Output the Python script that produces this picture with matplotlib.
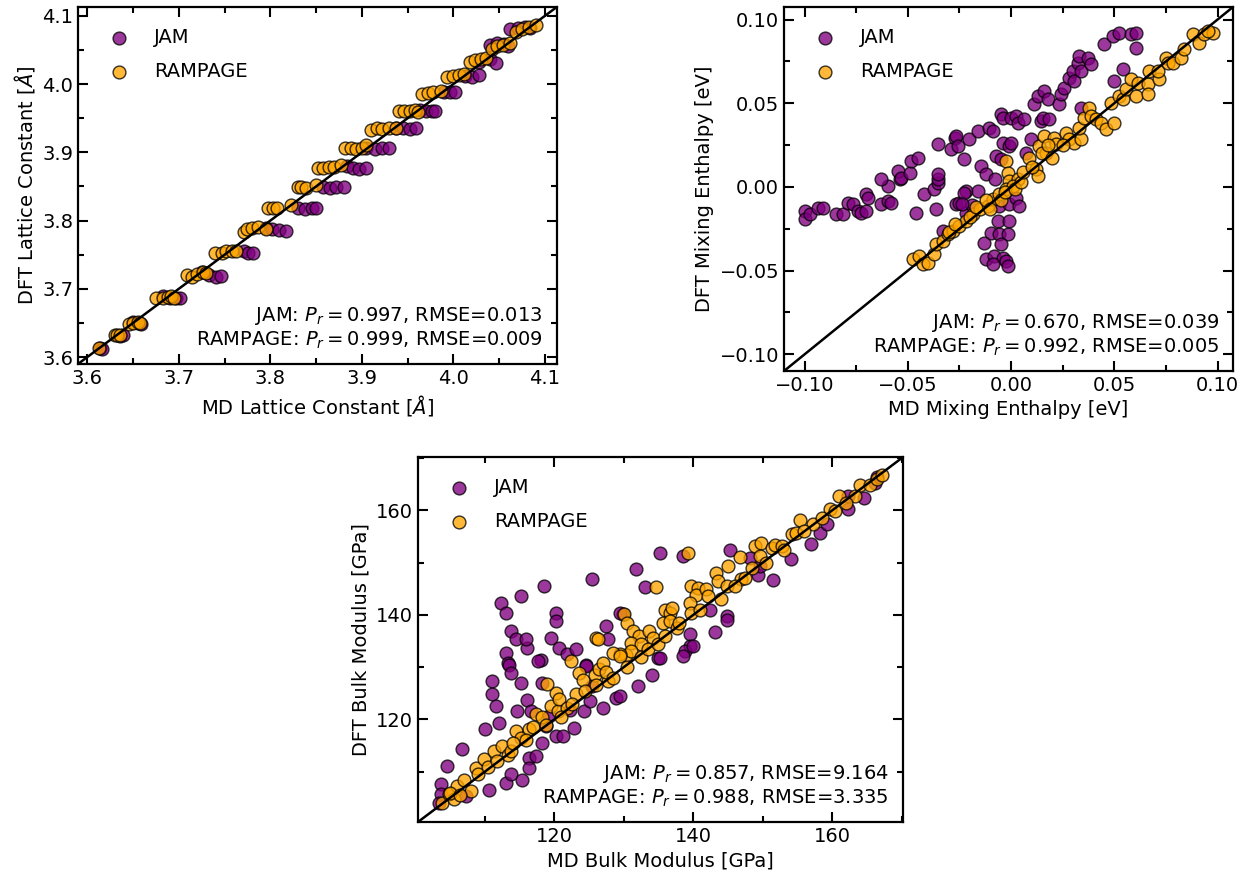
import numpy as np
import matplotlib
matplotlib.use("Agg")
import matplotlib.pyplot as plt
from matplotlib.ticker import MultipleLocator

# ---- lattice constant [A] (MD, DFT) ----
jam_lc_md = [3.614, 3.616, 3.636, 3.639, 3.650, 3.655, 3.659,
             3.683, 3.690, 3.697, 3.701, 3.725, 3.733, 3.741, 3.746,
             3.771, 3.776, 3.781, 3.795, 3.802, 3.809, 3.817,
             3.830, 3.838, 3.845, 3.850, 3.858, 3.865, 3.872, 3.880,
             3.884, 3.890, 3.897, 3.905, 3.905, 3.914, 3.922, 3.930,
             3.937, 3.945, 3.952, 3.959, 3.964, 3.970, 3.977, 3.980,
             3.990, 3.996, 4.002, 4.013, 4.020, 4.028, 4.028, 4.040, 4.046,
             4.040, 4.048, 4.055, 4.060, 4.062, 4.070, 4.078, 4.084]
jam_lc_dft = [3.613, 3.612, 3.631, 3.632, 3.652, 3.650, 3.649,
              3.690, 3.686, 3.686, 3.686, 3.724, 3.721, 3.717, 3.719,
              3.755, 3.753, 3.752, 3.789, 3.787, 3.786, 3.785,
              3.818, 3.817, 3.818, 3.818, 3.849, 3.848, 3.849, 3.849,
              3.880, 3.877, 3.876, 3.877, 3.906, 3.905, 3.906, 3.906,
              3.936, 3.935, 3.934, 3.935, 3.962, 3.960, 3.960, 3.961,
              3.989, 3.988, 3.988, 4.012, 4.011, 4.013, 4.033, 4.036, 4.031,
              4.057, 4.060, 4.058, 4.055, 4.080, 4.082, 4.083, 4.082]
ramp_lc_md = [3.613, 3.630, 3.633, 3.636, 3.646, 3.650, 3.655, 3.658,
              3.675, 3.683, 3.688, 3.692, 3.695, 3.709, 3.715, 3.720, 3.726, 3.730,
              3.740, 3.747, 3.752, 3.758, 3.763, 3.771, 3.775, 3.780, 3.787, 3.795,
              3.798, 3.803, 3.807, 3.823, 3.830, 3.834, 3.839, 3.850,
              3.852, 3.858, 3.864, 3.870, 3.877, 3.882, 3.888, 3.894, 3.900, 3.905,
              3.910, 3.916, 3.922, 3.930, 3.937, 3.940, 3.946, 3.952, 3.958, 3.961,
              3.966, 3.972, 3.978, 3.986, 3.993, 4.000, 4.006, 4.012,
              4.018, 4.024, 4.030, 4.035, 4.042, 4.048, 4.054, 4.062,
              4.068, 4.075, 4.082, 4.090]
ramp_lc_dft = [3.613, 3.632, 3.633, 3.633, 3.649, 3.650, 3.651, 3.650,
               3.686, 3.686, 3.688, 3.689, 3.686, 3.721, 3.718, 3.722, 3.724, 3.723,
               3.752, 3.753, 3.756, 3.756, 3.755, 3.784, 3.788, 3.789, 3.790, 3.788,
               3.818, 3.818, 3.818, 3.823, 3.849, 3.849, 3.848, 3.852,
               3.877, 3.877, 3.878, 3.879, 3.882, 3.906, 3.906, 3.905, 3.906, 3.910,
               3.932, 3.935, 3.934, 3.936, 3.936, 3.961, 3.961, 3.960, 3.962, 3.959,
               3.986, 3.987, 3.988, 3.990, 4.010, 4.012, 4.013, 4.015,
               4.033, 4.035, 4.036, 4.038, 4.052, 4.056, 4.057, 4.060,
               4.076, 4.080, 4.084, 4.087]

# ---- mixing enthalpy [eV] (MD, DFT) ----
jam_mix_md = [-0.100, -0.100, -0.0976, -0.0936, -0.0912, -0.0847, -0.0815, -0.0791,
              -0.0767, -0.0742, -0.0726, -0.0702, -0.0702, -0.0694, -0.0629, -0.0597,
              -0.0581, -0.0597, -0.054, -0.046, -0.042, -0.0363, -0.0371, -0.0355,
              -0.0331, -0.0266, -0.025, -0.0218, -0.0629, -0.0549, -0.0533, -0.0492,
              -0.0484, -0.0452, -0.0355, -0.0355, -0.0355, -0.029, -0.0274, -0.0266,
              -0.0258, -0.0226, -0.0218, -0.0202, -0.0161, -0.0145, -0.0105, -0.0089,
              -0.0073, -0.0048, -0.0041, -0.0041, -0.0008, 0.0, 0.0, 0.0024, 0.0032,
              0.0064, 0.0073, 0.0097, 0.0113, 0.0129, 0.0145, 0.0153, 0.0161, 0.0177,
              0.0185, 0.0234, 0.0242, 0.0258, 0.0282, 0.0298, 0.0306, 0.0322, 0.0331,
              0.0339, 0.0371, 0.0387, 0.0339, 0.0452, 0.0492, 0.0524, 0.0500, 0.0540,
              0.0581, 0.0605, 0.0605, -0.0048, -0.0226, -0.0161, -0.0057, -0.0008,
              0.0024, 0.0040, -0.0065, -0.0008, -0.0097, -0.0057, -0.0016, -0.0129,
              -0.0048, -0.0121, -0.0081, -0.0041, -0.0024, -0.0016, -0.0089, -0.012,
              -0.008, -0.019, -0.024]
jam_mix_dft = [-0.0145, -0.0194, -0.0164, -0.0124, -0.0124, -0.0164, -0.0164, -0.0094,
               -0.0105, -0.0145, -0.0154, -0.0145, -0.0045, -0.0065, -0.0105, -0.0085,
               -0.0094, 0.0005, 0.0045, -0.0154, -0.0045, -0.0134, -0.0015, 0.0025,
               -0.0264, -0.0105, -0.0094, -0.0154, 0.0045, 0.0094, 0.0055, 0.0085,
               0.0154, 0.0174, 0.0045, 0.0075, 0.0254, 0.0224, 0.0294, 0.0303,
               0.0244, 0.0164, -0.0025, 0.0284, 0.0333, 0.0124, 0.0354, 0.0333,
               0.0184, 0.0433, 0.0413, 0.0264, 0.0244, 0.0264, 0.0413, 0.0423, 0.0383,
               0.0403, 0.0204, 0.0284, 0.0493, 0.0542, 0.0393, 0.0413, 0.0572, 0.0523,
               0.0403, 0.0493, 0.0553, 0.0593, 0.0652, 0.0692, 0.0632, 0.0742, 0.0781,
               0.0692, 0.0772, 0.0732, 0.0473, 0.0851, 0.0901, 0.0921, 0.0632, 0.0702,
               0.0911, 0.0921, 0.0832, 0.0164, -0.0035, -0.0025, -0.0115, -0.0105,
               -0.0065, -0.0115, -0.0204, -0.0204, -0.0274, -0.0284, -0.0284, -0.0333,
               -0.0343, -0.0433, -0.0413, -0.0423, -0.0443, -0.0473, -0.0463, 0.008,
               0.005, -0.011, -0.010]
ramp_mix_md = [-0.0476, -0.0444, -0.0428, -0.0404, -0.0371, -0.0363, -0.0331, -0.0307,
               -0.0282, -0.025, -0.0218, -0.0024, -0.0016, -0.0008, 0.0032, 0.0089,
               0.0121, 0.0129, 0.0137, 0.0161, 0.0169, 0.0210, 0.0218, 0.0266, 0.0282,
               0.0306, 0.0339, 0.0331, 0.0355, 0.0379, 0.0387, 0.0411, 0.0436, 0.0460,
               0.0500, 0.0484, 0.0524, 0.0540, 0.0557, 0.0581, 0.0605, 0.0613, 0.0661,
               0.0661, 0.0669, 0.0718, 0.0710, 0.0750, 0.0758, 0.0782, 0.0823, 0.0839,
               0.0879, 0.0911, 0.0936, 0.0976, 0.0952, -0.0186, -0.0153, -0.0113,
               -0.0089, -0.0057, -0.0024, 0.0008, -0.030, -0.027, -0.020, -0.017,
               -0.012, -0.010, -0.005, -0.003, 0.002, 0.005, 0.006, 0.010, 0.015,
               0.020, 0.018, 0.025]
ramp_mix_dft = [-0.0433, -0.0413, -0.0463, -0.0453, -0.0403, -0.0343, -0.0324, -0.0284,
                -0.0264, -0.0234, -0.0204, 0.0154, 0.0085, 0.0035, 0.0045, 0.0174,
                0.0105, 0.0065, 0.0244, 0.0303, 0.0204, 0.0294, 0.0254, 0.0324, 0.0284,
                0.0264, 0.0284, 0.0354, 0.0413, 0.0473, 0.0423, 0.0403, 0.0383, 0.0343,
                0.0383, 0.0503, 0.0542, 0.0523, 0.0582, 0.0642, 0.0542, 0.0622, 0.0612,
                0.0553, 0.0692, 0.0642, 0.0692, 0.0772, 0.0742, 0.0742, 0.0772, 0.0821,
                0.0911, 0.0861, 0.0911, 0.0921, 0.0931, -0.0164, -0.0134, -0.0115,
                -0.0075, -0.0045, -0.0015, 0.0005, -0.027, -0.022, -0.018, -0.012,
                -0.008, -0.013, -0.008, -0.003, -0.001, 0.003, 0.009, 0.012, 0.020,
                0.017, 0.025, 0.025]

# ---- bulk modulus [GPa] (MD, DFT) ----
jam_bm_md = [112.3, 113.0, 115.2, 118.6, 120.2, 120.2, 125.5, 113.8, 114.5, 113.0,
             113.3, 116.1, 118.1, 119.5, 120.7, 121.9, 124.6, 127.5, 127.7, 129.9,
             131.8, 135.2, 133.0, 138.5, 145.3, 149.3, 151.5, 154.0, 157.0, 158.2,
             159.2, 162.3, 162.3, 164.5, 166.2, 166.4, 129.4, 142.4, 144.8, 144.8,
             143.1, 139.5, 139.5, 138.8, 140.0, 138.5, 134.9, 149.6, 148.1,
             103.7, 103.7, 103.4, 104.6, 106.8, 107.3, 110.1, 110.6, 111.1, 111.1,
             111.6, 112.1, 113.5, 113.8, 113.0, 113.8, 114.7, 115.2, 115.4, 116.1,
             116.6, 117.6, 118.3, 116.4, 116.3, 117.4, 118.3, 118.8, 119.3, 120.2,
             121.2, 122.9, 122.2, 124.3, 125.1, 124.6, 123.1, 125.5, 127.0, 128.9,
             115.9, 129.4, 135.2, 134.0, 132.0]
jam_bm_dft = [142.2, 140.4, 143.7, 145.6, 140.4, 138.8, 146.8, 136.9, 135.3, 132.8,
              130.8, 133.7, 131.3, 135.6, 133.6, 132.6, 130.5, 137.8, 135.3, 140.1,
              148.8, 151.9, 145.4, 151.2, 152.5, 147.7, 146.6, 150.6, 153.5, 155.6,
              157.3, 160.2, 162.8, 162.4, 165.3, 166.4, 140.4, 141.0, 139.8, 139.1,
              136.7, 136.3, 134.0, 133.1, 134.0, 132.2, 131.8, 149.4, 150.9,
              107.6, 105.7, 104.1, 111.1, 114.3, 105.3, 118.1, 106.6, 127.3, 124.8,
              122.5, 119.4, 130.5, 128.9, 107.9, 109.5, 121.6, 127.0, 108.5, 123.8,
              121.6, 131.1, 127.0, 112.7, 110.7, 113.0, 115.5, 118.7, 120.6, 116.8,
              116.8, 118.4, 121.9, 121.6, 123.5, 130.2, 133.4, 126.4, 122.2, 124.1,
              135.3, 124.5, 131.8, 128.6, 126.4]
ramp_bm_md = [139.2, 134.7, 139.7, 140.7, 140.4, 141.9, 142.1, 143.3, 143.6, 144.8,
              145.0, 146.7, 146.9, 148.4, 148.9, 149.8, 149.6, 151.3, 151.8, 152.7,
              154.2, 154.8, 155.4, 157.3, 159.7, 160.4, 160.9, 163.3, 164.0, 165.5,
              166.4, 167.1, 135.9, 136.6, 137.0, 135.6, 136.6, 137.6, 139.5, 139.7,
              130.1, 130.4, 131.3, 132.2, 133.7, 134.2, 131.1, 132.5, 130.3, 131.1,
              129.4, 126.0, 126.3, 122.4,
              103.9, 104.8, 105.6, 106.0, 107.0, 108.0, 108.7, 109.9, 111.3, 112.5,
              113.3, 113.8, 114.5, 115.2, 116.4, 117.4, 118.3, 119.5, 120.2, 120.5,
              120.7, 121.9, 123.1, 123.6, 124.1, 125.8, 126.5, 127.0, 127.7, 128.4,
              129.4, 119.0,
              105.0, 106.5, 109.0, 110.5, 111.8, 114.0, 116.0, 117.0, 118.8, 121.0,
              122.5, 124.5, 126.0, 127.5, 128.5, 130.5, 132.5, 133.5, 135.0, 136.0,
              138.0, 141.0, 144.0, 146.0, 147.5, 150.5, 153.0, 156.0, 158.5, 162.0]
ramp_bm_dft = [151.9, 145.3, 145.5, 145.2, 143.9, 144.9, 143.6, 148.0, 146.4, 145.5,
               149.4, 151.1, 146.8, 149.0, 153.1, 153.8, 151.2, 152.8, 153.4, 153.1,
               155.4, 155.6, 158.2, 157.3, 160.2, 159.8, 162.7, 162.7, 164.9, 164.9,
               165.9, 166.8, 141.0, 140.4, 141.3, 138.5, 138.8, 137.5, 142.3, 140.4,
               140.1, 138.5, 136.9, 135.9, 136.9, 135.6, 134.7, 134.4, 132.4, 133.1,
               132.5, 135.6, 135.3, 131.1,
               104.1, 105.7, 104.7, 107.2, 108.5, 106.3, 110.8, 112.4, 113.9, 114.9,
               113.3, 114.0, 117.8, 116.5, 118.1, 121.0, 120.4, 122.5, 125.1, 121.6,
               124.0, 122.2, 124.8, 128.9, 127.6, 128.6, 129.6, 130.8, 127.3, 132.8,
               132.1, 126.7,
               106.0, 105.5, 109.5, 111.0, 112.0, 115.5, 116.0, 118.5, 119.0, 120.5,
               123.0, 125.5, 126.5, 129.0, 128.0, 130.0, 132.0, 133.5, 134.5, 136.0,
               138.5, 141.0, 143.0, 145.5, 147.0, 150.0, 152.5, 156.0, 158.5, 161.5]

stats_lc = 'JAM: $P_r = 0.997$, RMSE=0.013\nRAMPAGE: $P_r = 0.999$, RMSE=0.009'
stats_mix = 'JAM: $P_r = 0.670$, RMSE=0.039\nRAMPAGE: $P_r = 0.992$, RMSE=0.005'
stats_bm = 'JAM: $P_r = 0.857$, RMSE=9.164\nRAMPAGE: $P_r = 0.988$, RMSE=3.335'

plt.rcParams['font.size'] = 14


def panel(ax, jx, jy, rx, ry, lims, major, minor, xlab, ylab, stats):
    ax.scatter(jx, jy, s=85, c='purple', edgecolors='k', linewidths=1.0, alpha=0.78, label='JAM')
    ax.scatter(rx, ry, s=85, c='orange', edgecolors='k', linewidths=1.0, alpha=0.78, label='RAMPAGE')
    ax.plot(lims, lims, color='k', linewidth=1.8)
    ax.set_xlim(lims)
    ax.set_ylim(lims)
    ax.xaxis.set_major_locator(MultipleLocator(major))
    ax.yaxis.set_major_locator(MultipleLocator(major))
    ax.xaxis.set_minor_locator(MultipleLocator(minor))
    ax.yaxis.set_minor_locator(MultipleLocator(minor))
    ax.tick_params(which='both', direction='in', top=True, right=True, width=1.5)
    ax.tick_params(which='major', length=7)
    ax.tick_params(which='minor', length=4.5)
    for sp in ax.spines.values():
        sp.set_linewidth(1.6)
    ax.set_xlabel(xlab)
    ax.set_ylabel(ylab)
    ax.legend(loc='upper left', frameon=False, borderaxespad=0.7, labelspacing=0.75)
    ax.text(0.97, 0.035, stats, transform=ax.transAxes, ha='right', va='bottom')


fig = plt.figure(figsize=(12.44, 8.71), dpi=100)
ax1 = fig.add_axes([0.0627, 0.5821, 0.385, 0.410])
ax2 = fig.add_axes([0.6302, 0.5740, 0.361, 0.418])
ax3 = fig.add_axes([0.3360, 0.0563, 0.390, 0.419])

panel(ax1, jam_lc_md, jam_lc_dft, ramp_lc_md, ramp_lc_dft, (3.59, 4.113), 0.1, 0.05,
      'MD Lattice Constant [$\\AA$]', 'DFT Lattice Constant [$\\AA$]', stats_lc)
panel(ax2, jam_mix_md, jam_mix_dft, ramp_mix_md, ramp_mix_dft, (-0.110, 0.1075), 0.05, 0.025,
      'MD Mixing Enthalpy [eV]', 'DFT Mixing Enthalpy [eV]', stats_mix)
panel(ax3, jam_bm_md, jam_bm_dft, ramp_bm_md, ramp_bm_dft, (100.4, 170.2), 20, 10,
      'MD Bulk Modulus [GPa]', 'DFT Bulk Modulus [GPa]', stats_bm)

fig.savefig('out.png', dpi=100)
